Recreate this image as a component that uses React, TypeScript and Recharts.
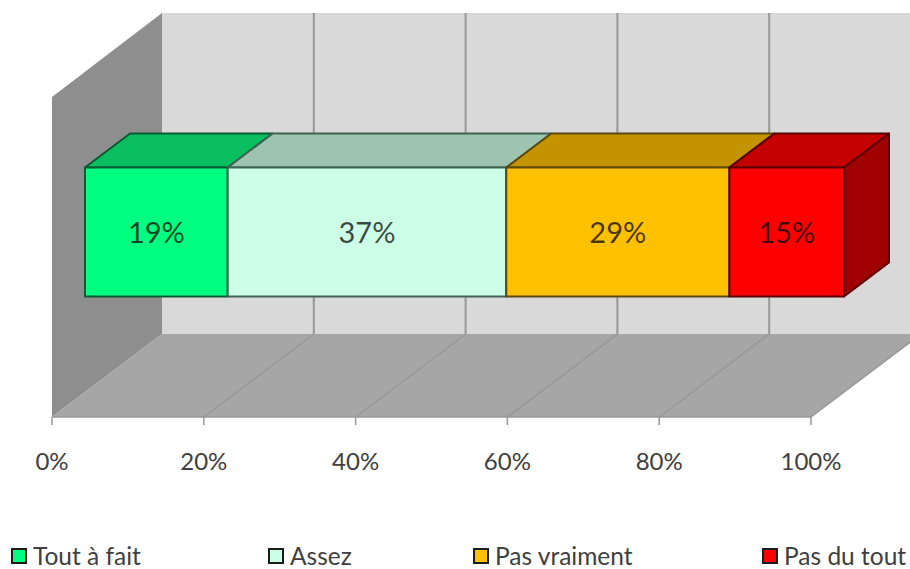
import { BarChart, Bar, XAxis, YAxis, Legend, LabelList, ReferenceArea } from 'recharts';

const categories = [''];
const seriesNames = ['Tout à fait', 'Assez', 'Pas vraiment', 'Pas du tout'];
const seriesValues = [18.8, 36.7, 29.4, 15.1];
const tickValues = [0, 20, 40, 60, 80, 100];

const frontColors = ['#00FF80', '#CCFFE6', '#FFC000', '#FF0000'];
const topColors = ['#0ABF60', '#9EC4B1', '#C49400', '#C40000'];
const edgeColors = ['#0B5A33', '#3F6353', '#5C4A10', '#5A0000'];
const legendLeft = [11, 268, 473, 762];

const FONT = 'Lato, sans-serif';
// front of the bars sits part way into the floor
const SHIFT_X = 33;
const SHIFT_Y = -25.5;
const DEPTH_X = 45;
const DEPTH_Y = -34;
const WALL_X = 110;
const WALL_Y = -83;

const data = categories.map((name) => {
  const row: Record<string, string | number> = { name };
  seriesNames.forEach((s, i) => {
    row[s] = seriesValues[i];
  });
  return row;
});

const pts = (list: number[][]) => list.map((p) => p.join(',')).join(' ');

function Walls({ x, y, width, height }: any) {
  const bottom = y + height;
  const backY = bottom + WALL_Y;
  return (
    <g>
      <rect x={x + WALL_X} y={13} width={width} height={backY - 13} fill="#D9D9D9" />
      <polygon
        points={pts([[x, y], [x + WALL_X, 13], [x + WALL_X, backY], [x, bottom]])}
        fill="#8E8E8E"
      />
      <polygon
        points={pts([[x, bottom], [x + WALL_X, backY], [x + WALL_X + width, backY], [x + width, bottom]])}
        fill="#A6A6A6"
      />
      {tickValues.slice(1).map((t) => {
        const px = x + (t / 100) * width;
        return (
          <g key={t} stroke="#979797">
            <line x1={px} y1={bottom} x2={px + WALL_X} y2={backY} strokeWidth={1.5} />
            <line x1={px + WALL_X} y1={backY} x2={px + WALL_X} y2={13} strokeWidth={2} />
          </g>
        );
      })}
    </g>
  );
}

function Block(props: any) {
  const { x, y, width, height, index } = props;
  const i = props.seriesIndex;
  const left = x + SHIFT_X;
  const top = y + SHIFT_Y;
  const right = left + width;
  const low = top + height;
  return (
    <g key={index} stroke={edgeColors[i]} strokeWidth={2} strokeLinejoin="round">
      <polygon
        points={pts([[left, top], [left + DEPTH_X, top + DEPTH_Y], [right + DEPTH_X, top + DEPTH_Y], [right, top]])}
        fill={topColors[i]}
      />
      {i === seriesNames.length - 1 && (
        <polygon
          points={pts([[right, top], [right + DEPTH_X, top + DEPTH_Y], [right + DEPTH_X, low + DEPTH_Y], [right, low]])}
          fill="#A00000"
        />
      )}
      <rect x={left} y={top} width={width} height={height} fill={frontColors[i]} />
    </g>
  );
}

function PercentLabel({ x, y, width, height, value }: any) {
  return (
    <text
      x={x + SHIFT_X + width / 2}
      y={y + SHIFT_Y + height / 2 - 1}
      textAnchor="middle"
      dominantBaseline="central"
      fontFamily={FONT}
      fontSize={29}
      fill="#000"
      fillOpacity={0.72}
    >
      {Math.round(value)}%
    </text>
  );
}

function LegendRow({ payload }: any) {
  return (
    <div style={{ position: 'relative', width: 910, height: 34 }}>
      {(payload || []).map((item: any, i: number) => (
        <div
          key={item.value}
          style={{
            position: 'absolute',
            left: legendLeft[i],
            top: 8,
            display: 'flex',
            alignItems: 'center',
            fontFamily: FONT,
            fontSize: 24.5,
            lineHeight: '26px',
            color: '#404040',
            whiteSpace: 'nowrap',
          }}
        >
          <span
            style={{
              display: 'inline-block',
              boxSizing: 'border-box',
              width: 16,
              height: 16,
              marginRight: 6,
              background: item.color,
              border: '2px solid #1c1c1c',
            }}
          />
          {item.value}
        </div>
      ))}
    </div>
  );
}

export default function App() {
  return (
    <div style={{ position: 'absolute', left: 0, top: 0, width: 910, height: 569, overflow: 'hidden', background: '#fff' }}>
      <BarChart
        width={910}
        height={569}
        data={data}
        layout="vertical"
        barSize={129}
        margin={{ top: 97, right: 99, bottom: 58, left: 52 }}
      >
        <ReferenceArea x1={0} x2={100} ifOverflow="visible" shape={<Walls />} />
        <XAxis
          type="number"
          domain={[0, 100]}
          ticks={tickValues}
          interval={0}
          height={60}
          tickSize={8}
          tickMargin={28}
          tickFormatter={(v) => `${v}%`}
          tick={{ fontFamily: FONT, fontSize: 24, fill: '#404040' }}
          axisLine={{ stroke: '#979797', strokeWidth: 1.5 }}
          tickLine={{ stroke: '#979797', strokeWidth: 1.5 }}
        />
        <YAxis type="category" dataKey="name" hide />
        {seriesNames.map((s, i) => (
          <Bar
            key={s}
            dataKey={s}
            name={s}
            stackId="a"
            fill={frontColors[i]}
            isAnimationActive={false}
            shape={(p: any) => <Block {...p} seriesIndex={i} />}
          >
            <LabelList dataKey={s} content={<PercentLabel />} />
          </Bar>
        ))}
        <Legend
          verticalAlign="bottom"
          height={34}
          itemSorter={null}
          content={<LegendRow />}
          wrapperStyle={{ left: 0, top: 535, bottom: 'auto', width: 910 }}
        />
      </BarChart>
    </div>
  );
}
